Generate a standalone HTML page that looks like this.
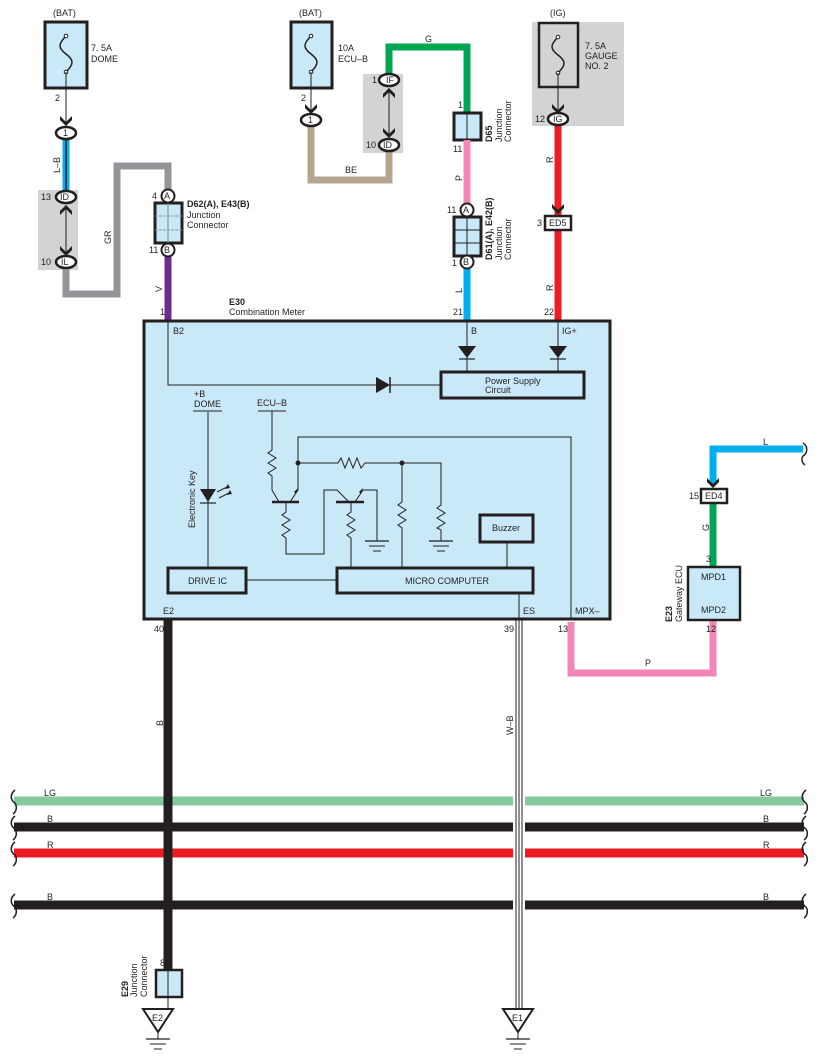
<!DOCTYPE html>
<html><head><meta charset="utf-8"><style>
html,body{margin:0;padding:0;background:#fff}
svg{display:block}
text{font-family:"Liberation Sans",sans-serif;font-size:9px;fill:#231f20}
</style></head><body>
<svg width="818" height="1062" viewBox="0 0 818 1062" xmlns="http://www.w3.org/2000/svg">
<defs>
<g id="chev"><path d="M-6,-8 L0,-2 L6,-8 L6,-4 L0,2 L-6,-4Z" fill="#231f20"/></g>
<g id="chevu"><path d="M-6,8 L0,2 L6,8 L6,4 L0,-2 L-6,4Z" fill="#231f20"/></g>
<g id="gnd"><line x1="-12" y1="0" x2="12" y2="0" stroke="#231f20" stroke-width="1.2"/><line x1="-8" y1="5" x2="8" y2="5" stroke="#231f20" stroke-width="1"/><line x1="-4" y1="10" x2="4" y2="10" stroke="#231f20" stroke-width="1"/></g>
</defs>

<rect x="38" y="190" width="40" height="80" fill="#d1d3d4"/>
<rect x="363" y="74" width="40" height="79" fill="#d1d3d4"/>
<rect x="532" y="22" width="92" height="104" fill="#d1d3d4"/>

<text x="53" y="16">(BAT)</text>
<rect x="45" y="22" width="42" height="66" fill="#c9e8f8" stroke="#231f20" stroke-width="3"/>
<path d="M66,36 c-8,8 -8,12 0,18 c8,6 8,10 0,18" fill="none" stroke="#231f20" stroke-width="1.5"/>
<circle cx="66" cy="36" r="1.8" fill="#fff" stroke="#231f20"/><circle cx="66" cy="72" r="1.8" fill="#fff" stroke="#231f20"/>
<text x="91" y="51">7. 5A</text><text x="91" y="62">DOME</text>
<text x="55" y="101">2</text>
<line x1="66" y1="72" x2="66" y2="124" stroke="#231f20" stroke-width="1"/>
<use href="#chev" x="66" y="124"/>

<line x1="66" y1="139" x2="66" y2="192" stroke="#00aeef" stroke-width="7"/>
<line x1="66" y1="139" x2="66" y2="192" stroke="#231f20" stroke-width="1.5"/>
<text transform="translate(60,173) rotate(-90)">L–B</text>
<ellipse cx="66" cy="133" rx="10" ry="6" fill="#fff" stroke="#231f20" stroke-width="2.5"/><text x="63" y="136">1</text>
<line x1="66" y1="205" x2="66" y2="256" stroke="#231f20" stroke-width="1"/>
<use href="#chevu" x="66" y="207"/><use href="#chev" x="66" y="254"/>
<ellipse cx="66" cy="197" rx="10" ry="6" fill="#fff" stroke="#231f20" stroke-width="2.5"/><text x="60" y="200">ID</text><text x="41" y="200">13</text>
<ellipse cx="66" cy="262" rx="10" ry="6" fill="#fff" stroke="#231f20" stroke-width="2.5"/><text x="61" y="265">IL</text><text x="41" y="265">10</text>
<polyline points="66,269 66,294 117,294 117,166 168,166 168,190" fill="none" stroke="#939598" stroke-width="7"/>
<text transform="translate(111,244) rotate(-90)">GR</text>
<rect x="155" y="203" width="27" height="40" fill="#c9e8f8" stroke="#231f20" stroke-width="3"/>
<line x1="168" y1="203" x2="168" y2="243" stroke="#939598" stroke-width="1.2"/>
<line x1="155" y1="216" x2="182" y2="216" stroke="#939598" stroke-width="1" stroke-dasharray="3,1"/>
<line x1="155" y1="230" x2="182" y2="230" stroke="#939598" stroke-width="1" stroke-dasharray="3,1"/>
<circle cx="168" cy="196" r="6.5" fill="#fff" stroke="#231f20" stroke-width="2"/><text x="164" y="199">A</text><text x="152" y="199">4</text>
<line x1="168" y1="256" x2="168" y2="320" stroke="#6e2c91" stroke-width="7"/>
<circle cx="168" cy="250" r="6.5" fill="#fff" stroke="#231f20" stroke-width="2"/><text x="164" y="253">B</text><text x="149" y="253">11</text>
<text x="187" y="207" font-weight="bold">D62(A), E43(B)</text>
<text x="187" y="218">Junction</text><text x="187" y="228">Connector</text>
<text transform="translate(162,292) rotate(-90)">V</text>
<text x="160" y="315">1</text>
<text x="229" y="305" font-weight="bold">E30</text>
<text x="229" y="315">Combination Meter</text>

<text x="299" y="16">(BAT)</text>
<rect x="291" y="22" width="41" height="66" fill="#c9e8f8" stroke="#231f20" stroke-width="3"/>
<path d="M311,36 c-8,8 -8,12 0,18 c8,6 8,10 0,18" fill="none" stroke="#231f20" stroke-width="1.5"/>
<circle cx="311" cy="36" r="1.8" fill="#fff" stroke="#231f20"/><circle cx="311" cy="72" r="1.8" fill="#fff" stroke="#231f20"/>
<text x="338" y="51">10A</text><text x="338" y="62">ECU–B</text>
<text x="301" y="101">2</text>
<line x1="311" y1="72" x2="311" y2="112" stroke="#231f20" stroke-width="1"/>
<use href="#chev" x="311" y="112"/>
<polyline points="311,126 311,180 389,180 389,151" fill="none" stroke="#b5a48e" stroke-width="7"/>
<text x="345" y="173">BE</text>
<ellipse cx="311" cy="120" rx="10" ry="6" fill="#fff" stroke="#231f20" stroke-width="2.5"/><text x="308" y="123">1</text>
<line x1="389" y1="88" x2="389" y2="138" stroke="#231f20" stroke-width="1"/>
<use href="#chevu" x="389" y="90"/><use href="#chev" x="389" y="136"/>
<polyline points="389,74 389,47 467,47 467,112" fill="none" stroke="#00a651" stroke-width="7"/>
<text x="425" y="42">G</text>
<ellipse cx="389" cy="80" rx="10" ry="6" fill="#fff" stroke="#231f20" stroke-width="2.5"/><text x="386" y="83">IF</text><text x="372" y="83">1</text>
<ellipse cx="389" cy="145" rx="10" ry="6" fill="#fff" stroke="#231f20" stroke-width="2.5"/><text x="383" y="148">ID</text><text x="366" y="148">10</text>
<text x="458" y="108">1</text>
<rect x="454" y="113" width="27" height="27" fill="#c9e8f8" stroke="#231f20" stroke-width="3"/>
<line x1="467" y1="113" x2="467" y2="140" stroke="#231f20" stroke-width="1"/>
<text transform="translate(492,142) rotate(-90)" font-weight="bold">D65</text>
<text transform="translate(502,142) rotate(-90)">Junction</text>
<text transform="translate(511,142) rotate(-90)">Connector</text>
<text x="453" y="152">11</text>
<line x1="467" y1="140" x2="467" y2="204" stroke="#f287b7" stroke-width="7"/>
<text transform="translate(462,181) rotate(-90)">P</text>
<rect x="454" y="217" width="27" height="39" fill="#c9e8f8" stroke="#231f20" stroke-width="3"/>
<line x1="467" y1="217" x2="467" y2="256" stroke="#231f20" stroke-width="1"/>
<line x1="454" y1="230" x2="481" y2="230" stroke="#231f20" stroke-width="1"/>
<line x1="454" y1="243" x2="481" y2="243" stroke="#231f20" stroke-width="1"/>
<circle cx="467" cy="210" r="6.5" fill="#fff" stroke="#231f20" stroke-width="2"/><text x="463" y="213">A</text><text x="447" y="213">11</text>
<line x1="467" y1="268" x2="467" y2="320" stroke="#00aeef" stroke-width="7"/>
<circle cx="467" cy="262" r="6.5" fill="#fff" stroke="#231f20" stroke-width="2"/><text x="463" y="265">B</text><text x="452" y="266">1</text>
<text transform="translate(492,260) rotate(-90)" font-weight="bold">D61(A), E42(B)</text>
<text transform="translate(502,260) rotate(-90)">Junction</text>
<text transform="translate(511,260) rotate(-90)">Connector</text>
<text transform="translate(462,293) rotate(-90)">L</text>
<text x="453" y="315">21</text>

<text x="550" y="16">(IG)</text>
<rect x="539" y="23" width="39" height="64" fill="#d1d3d4" stroke="#231f20" stroke-width="2.5"/>
<path d="M558,37 c-8,8 -8,12 0,18 c8,6 8,10 0,18" fill="none" stroke="#231f20" stroke-width="1.5"/>
<circle cx="558" cy="37" r="1.8" fill="#fff" stroke="#231f20"/><circle cx="558" cy="73" r="1.8" fill="#fff" stroke="#231f20"/>
<text x="585" y="49">7. 5A</text><text x="585" y="59">GAUGE</text><text x="585" y="69">NO. 2</text>
<line x1="558" y1="73" x2="558" y2="110" stroke="#231f20" stroke-width="1"/>
<use href="#chev" x="558" y="112"/>
<line x1="558" y1="126" x2="558" y2="320" stroke="#ed1c24" stroke-width="7"/>
<ellipse cx="558" cy="119" rx="10" ry="6" fill="#fff" stroke="#231f20" stroke-width="2.5"/><text x="553" y="122">IG</text><text x="535" y="122">12</text>
<text transform="translate(553,163) rotate(-90)">R</text>
<use href="#chev" x="558" y="212"/>
<rect x="545" y="216" width="26" height="14" fill="#fff" stroke="#231f20" stroke-width="2.5"/><text x="549" y="226">ED5</text><text x="537" y="226">3</text>
<text transform="translate(553,291) rotate(-90)">R</text>
<text x="544" y="315">22</text>

<rect x="144" y="321" width="466" height="298" fill="#c9e8f8" stroke="#231f20" stroke-width="3"/>
<g stroke="#231f20" stroke-width="1" fill="none">
<polyline points="168,322 168,385 440,385"/>
<line x1="467" y1="322" x2="467" y2="372"/>
<line x1="558" y1="322" x2="558" y2="372"/>
<line x1="208" y1="412" x2="208" y2="568"/>
<line x1="193" y1="411" x2="222" y2="411"/>
<line x1="258" y1="411" x2="286" y2="411"/>
<polyline points="272,411 272,450 268,453 276,458 268,463 276,468 268,473 272,476 272,490 279,502"/>
<line x1="272" y1="502" x2="299" y2="502" stroke-width="2.5"/>
<polyline points="290,502 298,490 298,437 571,437 571,620"/>
<polyline points="298,463 338,463 341,458 345,468 349,458 353,468 357,458 361,468 365,463 441,463 441,505 437,508 445,513 437,518 445,523 437,528 441,530 441,541"/>
<polyline points="286,502 286,512 282,515 290,520 282,525 290,530 282,535 286,538 286,554 324,554 324,490 337,490 349,502"/>
<line x1="336" y1="502" x2="364" y2="502" stroke-width="2.5"/>
<polyline points="355,502 363,490 377,490 377,541"/>
<polyline points="351,502 351,512 347,515 355,520 347,525 355,530 347,535 351,538 351,568"/>
<polyline points="402,463 402,502 398,505 406,510 398,515 406,520 398,525 402,528 402,568"/>
<line x1="246" y1="580" x2="337" y2="580"/>
<line x1="507" y1="542" x2="507" y2="568"/>
<line x1="519" y1="593" x2="519" y2="620"/>
</g>
<circle cx="298" cy="463" r="2.5" fill="#231f20"/><circle cx="402" cy="463" r="2.5" fill="#231f20"/>
<path d="M294,492 L298,488 L296,494Z" fill="#231f20"/><path d="M359,492 L363,488 L361,494Z" fill="#231f20"/>
<use href="#gnd" x="377" y="541"/><use href="#gnd" x="441" y="541"/>
<path d="M376,377 L390,385 L376,393Z" fill="#231f20"/><line x1="390" y1="377" x2="390" y2="393" stroke="#231f20" stroke-width="1.5"/>
<path d="M458,346 L476,346 L467,358Z" fill="#231f20"/><line x1="459" y1="359" x2="475" y2="359" stroke="#231f20" stroke-width="1.2"/>
<path d="M549,346 L567,346 L558,358Z" fill="#231f20"/><line x1="550" y1="359" x2="566" y2="359" stroke="#231f20" stroke-width="1.2"/>
<path d="M200,489 L216,489 L208,502Z" fill="#231f20"/><line x1="200" y1="503" x2="216" y2="503" stroke="#231f20" stroke-width="1.2"/>
<g stroke="#231f20" stroke-width="1"><line x1="217" y1="492" x2="227" y2="487"/><line x1="219" y1="498" x2="229" y2="493"/></g>
<path d="M228,484 L230,488 L225,489Z M230,490 L232,494 L227,495Z" fill="#231f20"/>
<text transform="translate(195,528) rotate(-90)">Electronic Key</text>
<rect x="441" y="372" width="143" height="26" fill="#c9e8f8" stroke="#231f20" stroke-width="3"/>
<text x="485" y="384">Power Supply</text><text x="485" y="393">Circuit</text>
<rect x="168" y="568" width="78" height="25" fill="#c9e8f8" stroke="#231f20" stroke-width="3"/>
<text x="188" y="584">DRIVE IC</text>
<rect x="337" y="568" width="196" height="25" fill="#c9e8f8" stroke="#231f20" stroke-width="3"/>
<text x="405" y="584">MICRO COMPUTER</text>
<rect x="480" y="515" width="53" height="27" fill="#c9e8f8" stroke="#231f20" stroke-width="3"/>
<text x="492" y="531">Buzzer</text>
<text x="173" y="334">B2</text><text x="471" y="334">B</text><text x="562" y="334">IG+</text>
<text x="194" y="397">+B</text><text x="194" y="407">DOME</text><text x="257" y="406">ECU–B</text>
<text x="163" y="614">E2</text><text x="523" y="614">ES</text><text x="575" y="614">MPX–</text>
<text x="154" y="632">40</text><text x="504" y="632">39</text><text x="558" y="632">13</text>

<polyline points="571,622 571,673 713,673 713,620" fill="none" stroke="#f287b7" stroke-width="7"/>
<text x="645" y="666">P</text>
<text x="706" y="632">12</text>
<polyline points="803,449 713,449 713,484" fill="none" stroke="#00aeef" stroke-width="7"/>
<text x="763" y="445">L</text>
<path d="M803,443 c5,3 5,10 0,13 c-2,3 -1,7 2,9" fill="none" stroke="#231f20" stroke-width="1.5"/>
<use href="#chev" x="713" y="486"/>
<line x1="713" y1="503" x2="713" y2="568" stroke="#00a651" stroke-width="7"/>
<rect x="701" y="489" width="26" height="14" fill="#fff" stroke="#231f20" stroke-width="2.5"/><text x="705" y="499">ED4</text><text x="689" y="499">15</text>
<text transform="translate(709,531) rotate(-90)">G</text>
<text x="706" y="562">3</text>
<rect x="688" y="567" width="52" height="53" fill="#c9e8f8" stroke="#231f20" stroke-width="2.5"/>
<text x="701" y="580">MPD1</text><text x="701" y="613">MPD2</text>
<text transform="translate(672,622) rotate(-90)" font-weight="bold">E23</text>
<text transform="translate(682,622) rotate(-90)">Gateway ECU</text>

<line x1="14" y1="801" x2="804" y2="801" stroke="#86c99e" stroke-width="9"/>
<line x1="14" y1="827" x2="804" y2="827" stroke="#231f20" stroke-width="9"/>
<line x1="14" y1="853" x2="804" y2="853" stroke="#ed1c24" stroke-width="9"/>
<line x1="14" y1="905" x2="804" y2="905" stroke="#231f20" stroke-width="9"/>
<rect x="513" y="790" width="12" height="120" fill="#fff"/>
<g fill="none" stroke="#231f20" stroke-width="1.5">
<path d="M15,790 c-5,4 -5,10 0,13 c2,3 2,8 -2,11"/><path d="M15,816 c-5,4 -5,10 0,13 c2,3 2,8 -2,11"/><path d="M15,842 c-5,4 -5,10 0,13 c2,3 2,8 -2,11"/><path d="M15,894 c-5,4 -5,10 0,13 c2,3 2,8 -2,11"/>
<path d="M806,790 c-5,4 -5,10 0,13 c2,3 2,8 -2,11"/><path d="M806,816 c-5,4 -5,10 0,13 c2,3 2,8 -2,11"/><path d="M806,842 c-5,4 -5,10 0,13 c2,3 2,8 -2,11"/><path d="M806,894 c-5,4 -5,10 0,13 c2,3 2,8 -2,11"/>
</g>
<text x="44" y="796">LG</text><text x="47" y="822">B</text><text x="47" y="848">R</text><text x="47" y="900">B</text>
<text x="760" y="796">LG</text><text x="763" y="822">B</text><text x="763" y="848">R</text><text x="763" y="900">B</text>

<line x1="168" y1="620" x2="168" y2="970" stroke="#231f20" stroke-width="9"/>
<text transform="translate(163,726) rotate(-90)">B</text>
<text x="160" y="966">8</text>
<rect x="156" y="970" width="26" height="27" fill="#c9e8f8" stroke="#231f20" stroke-width="2.5"/>
<line x1="168" y1="970" x2="168" y2="1008" stroke="#231f20" stroke-width="1"/>
<text transform="translate(128,997) rotate(-90)" font-weight="bold">E29</text>
<text transform="translate(137,997) rotate(-90)">Junction</text>
<text transform="translate(147,997) rotate(-90)">Connector</text>
<path d="M143,1009 L173,1009 L158,1032Z" fill="#fff" stroke="#231f20" stroke-width="2"/>
<text x="152" y="1021">E2</text>
<line x1="158" y1="1032" x2="158" y2="1039" stroke="#231f20"/>
<use href="#gnd" x="158" y="1039"/>

<g stroke="#231f20" stroke-width="1"><line x1="516" y1="620" x2="516" y2="1010"/><line x1="519" y1="593" x2="519" y2="1010"/><line x1="522" y1="620" x2="522" y2="1010"/></g>
<text transform="translate(513,735) rotate(-90)">W–B</text>
<path d="M503,1009 L533,1009 L518,1032Z" fill="#fff" stroke="#231f20" stroke-width="2"/>
<text x="512" y="1021">E1</text>
<line x1="518" y1="1032" x2="518" y2="1039" stroke="#231f20"/>
<use href="#gnd" x="518" y="1039"/>
</svg>
</body></html>
